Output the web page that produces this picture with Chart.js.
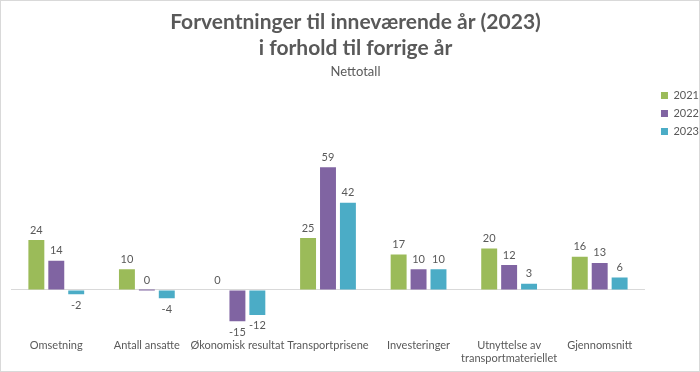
<!DOCTYPE html>
<html><head><meta charset="utf-8">
<script src="https://cdn.jsdelivr.net/npm/chart.js@4/dist/chart.umd.min.js"></script>
<style>html,body{margin:0;padding:0;background:#fff}#wrap{width:700px;height:372px;position:relative}</style>
</head><body><div id="wrap"><canvas id="c" width="700" height="372"></canvas></div>
<script>
const categories = ["Omsetning","Antall ansatte","Økonomisk resultat","Transportprisene","Investeringer",["Utnyttelse av","transportmateriellet"],"Gjennomsnitt"];
const seriesNames = ["2021","2022","2023"];
const values2021 = [24,10,0,25,17,20,16];
const values2022 = [14,0,-15,59,10,12,13];
const values2023 = [-2,-4,-12,42,10,3,6];
const colors = ["#9bbb59","#8064a2","#4bacc6"];
const FONT = "Lato";
const TXT = "#595959";

const labelPlugin = {
  id:'vals',
  afterDatasetsDraw(chart){
    const ctx = chart.ctx;
    ctx.save();
    ctx.font = "11px " + FONT;
    ctx.fillStyle = TXT;
    ctx.textAlign = "center";
    ctx.textBaseline = "middle";
    chart.data.datasets.forEach((ds,i)=>{
      const meta = chart.getDatasetMeta(i);
      meta.data.forEach((bar,j)=>{
        const v = ds.data[j];
        const y = v < 0 ? bar.y + 11 : bar.y - 10;
        ctx.fillText(String(v), bar.x, y);
      });
    });
    ctx.restore();
  }
};
const legendShift = {
  id:'legendShift',
  afterLayout(chart){
    if (chart.legend){ chart.legend.left += 9; chart.legend.top -= 3; }
  }
};
const borderPlugin = {
  id:'frame',
  afterDraw(chart){
    const ctx = chart.ctx;
    ctx.save();
    ctx.strokeStyle = "#d9d9d9";
    ctx.lineWidth = 1;
    ctx.strokeRect(0.5,0.5,chart.width-1,chart.height-1);
    ctx.restore();
  }
};

new Chart(document.getElementById('c'), {
  type:'bar',
  data:{
    labels:categories,
    datasets:[values2021,values2022,values2023].map((d,i)=>({
      label:seriesNames[i], data:d, backgroundColor:colors[i],
      barPercentage:0.8, categoryPercentage:0.66, minBarLength:(i===1?1:0)
    }))
  },
  options:{
    responsive:false, animation:false,
    layout:{padding:{left:11,right:0,top:8,bottom:4}},
    plugins:{
      title:{display:true, text:["Forventninger til inneværende år (2023)","i forhold til forrige år"],
        color:TXT, font:{family:FONT,size:21,weight:'bold'}, padding:{top:2,bottom:4}, lineHeight:1.25},
      subtitle:{display:true, text:"Nettotall", color:TXT, font:{family:FONT,size:13}, padding:{bottom:6}},
      legend:{position:'right', align:'start', fullSize:false,
        labels:{boxWidth:7, boxHeight:7, color:TXT, font:{family:FONT,size:11}, padding:7}},
      tooltip:{enabled:false}
    },
    scales:{
      x:{grid:{display:false}, border:{display:false},
        ticks:{color:TXT, font:{family:FONT,size:11}, maxRotation:0, autoSkip:false}},
      y:{min:-18.1, max:98.1, grid:{color:c=>c.tick.value===0?"#d9d9d9":"transparent", drawTicks:false, lineWidth:1},
        border:{display:false}, ticks:{display:false, stepSize:1}}
    }
  },
  plugins:[labelPlugin,legendShift,borderPlugin]
});
</script></body></html>
